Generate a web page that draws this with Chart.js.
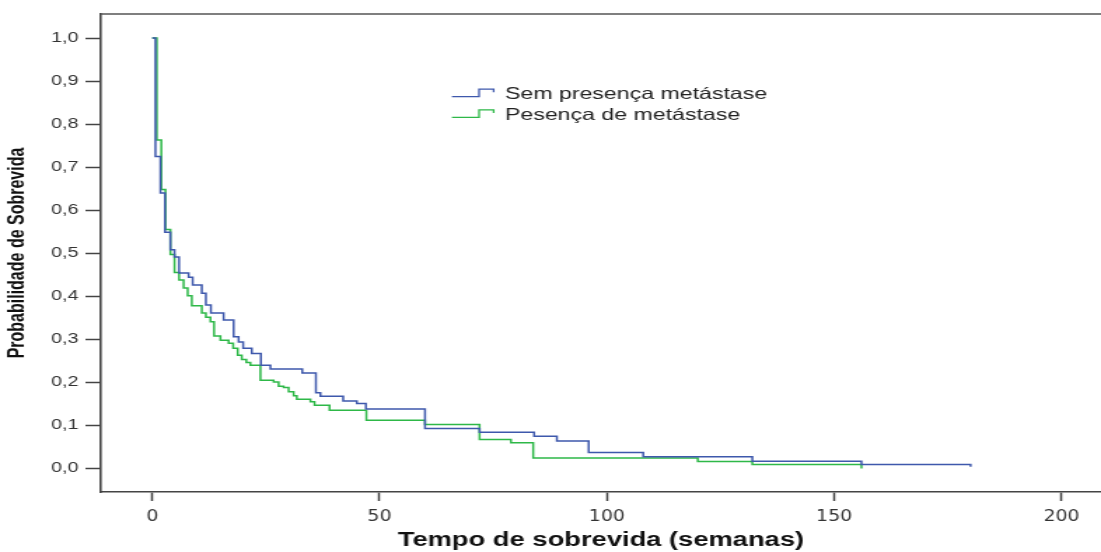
<!DOCTYPE html>
<html lang="pt">

<head>
    <meta charset="utf-8">
    <script src="https://cdn.jsdelivr.net/npm/chart.js@4/dist/chart.umd.min.js"></script>
    <title> Sobrevida Kaplan-Meier </title>
    <style>
        html, body { margin: 0; padding: 0; background: #fff; overflow: hidden; }
        /* the reference image is stretched sideways, so the whole canvas is too */
        #km { display: block; transform: scaleX(1.4008); transform-origin: 0 0; }
    </style>
</head>

<body>
    <canvas id="km" width="786" height="552"></canvas>

    <script>

        // Sem presença de metástase (tempo em semanas, sobrevida acumulada)
        const semTempo = [0, 0.7, 1.8, 2.8, 4.0, 4.9, 5.9, 8.0, 8.9, 10.9, 11.8, 12.9, 15.7, 17.9, 19.0, 20.0, 21.9, 23.9, 26.0,
            33.0, 36.0, 37.0, 42.0, 45.0, 47.0, 60.0, 72.0, 84.0, 89.0, 96.0, 108.0, 132.0, 156.0, 180.0];
        const semSobrevida = [1.0, 0.725, 0.640, 0.549, 0.508, 0.491, 0.454, 0.444, 0.426, 0.407, 0.380, 0.361, 0.345, 0.306, 0.294, 0.279, 0.267, 0.240, 0.231,
            0.222, 0.176, 0.168, 0.157, 0.151, 0.138, 0.093, 0.084, 0.075, 0.064, 0.037, 0.027, 0.017, 0.009, 0.004];

        // Presença de metástase
        const comTempo = [0, 1.0, 2.0, 2.9, 4.0, 4.9, 5.9, 6.9, 7.8, 8.7, 10.9, 11.8, 12.8, 13.6, 15.0, 16.8, 17.8, 18.8, 19.7, 20.7, 21.6, 23.8,
            26.7, 27.8, 28.9, 30.0, 31.1, 31.8, 34.8, 35.7, 39.0, 47.1, 60.0, 72.0, 78.9, 83.8, 120.0, 132.0, 156.0];
        const comSobrevida = [1.0, 0.763, 0.648, 0.555, 0.497, 0.455, 0.438, 0.419, 0.401, 0.378, 0.361, 0.351, 0.341, 0.308, 0.298, 0.291, 0.279, 0.263, 0.253, 0.246, 0.240, 0.205,
            0.201, 0.191, 0.188, 0.178, 0.169, 0.161, 0.155, 0.147, 0.135, 0.112, 0.102, 0.067, 0.060, 0.024, 0.016, 0.009, 0.0];

        const rotulos = ["Sem presença metástase", "Pesença de metástase"];
        const cores = ["#3E58AC", "#2EB848"];

        const xTicks = [0, 50, 100, 150, 200];
        const yTicks = [0.0, 0.1, 0.2, 0.3, 0.4, 0.5, 0.6, 0.7, 0.8, 0.9, 1.0];

        function pontos(ts, ss) {
            return ts.map((t, i) => ({ x: t, y: ss[i] }));
        }

        // top edge of the frame (left and bottom come from the axis borders)
        const moldura = {
            id: "moldura",
            afterDraw(chart) {
                const ctx = chart.ctx, a = chart.chartArea;
                ctx.save();
                ctx.strokeStyle = "#555";
                ctx.lineWidth = 1.6;
                ctx.beginPath();
                ctx.moveTo(a.left, a.top);
                ctx.lineTo(chart.width, a.top);
                ctx.stroke();
                ctx.restore();
            }
        };

        // SPSS style legend: a little step line followed by the label
        const legendaDegrau = {
            id: "legendaDegrau",
            afterDraw(chart) {
                const ctx = chart.ctx;
                ctx.save();
                ctx.font = "16.5px 'Liberation Sans', Arial, sans-serif";
                ctx.textBaseline = "alphabetic";
                chart.data.datasets.forEach((ds, i) => {
                    const y = 96.7 + i * 20.7;
                    ctx.strokeStyle = ds.borderColor;
                    ctx.lineWidth = 1.3;
                    ctx.beginPath();
                    ctx.moveTo(322.6, y);
                    ctx.lineTo(342, y);
                    ctx.lineTo(342, y - 7.6);
                    ctx.lineTo(352.4, y - 7.6);
                    ctx.lineTo(352.4, y - 4.4);
                    ctx.stroke();
                    ctx.fillStyle = "#222";
                    ctx.fillText(ds.label, 360.5, y + 2.3);
                });
                ctx.restore();
            }
        };

        const ctx = document.getElementById("km").getContext("2d");

        new Chart(ctx, {
            type: "line",
            data: {
                datasets: [
                    {
                        label: rotulos[0],
                        data: pontos(semTempo, semSobrevida),
                        borderColor: cores[0],
                        borderWidth: 1.5,
                        stepped: true,
                        pointRadius: 0,
                        fill: false
                    },
                    {
                        label: rotulos[1],
                        data: pontos(comTempo, comSobrevida),
                        borderColor: cores[1],
                        borderWidth: 1.5,
                        stepped: true,
                        pointRadius: 0,
                        fill: false
                    }
                ]
            },
            options: {
                responsive: false,
                animation: false,
                devicePixelRatio: 1,
                layout: { padding: { top: 14, left: 0, right: 0, bottom: 0 } },
                plugins: {
                    legend: { display: false },
                    tooltip: { enabled: false }
                },
                scales: {
                    x: {
                        type: "linear",
                        min: -11.3,
                        max: 208.7,
                        afterBuildTicks: s => { s.ticks = xTicks.map(v => ({ value: v })); },
                        afterFit: s => { s.height = 60; },
                        grid: {
                            drawOnChartArea: false,
                            drawTicks: true,
                            tickLength: 9,
                            tickColor: "#444",
                            tickWidth: 1.5
                        },
                        border: { display: true, color: "#444", width: 1.6 },
                        ticks: {
                            padding: 7,
                            color: "#333",
                            maxRotation: 0,
                            font: { family: "'Liberation Sans Narrow', 'DejaVu Sans Condensed', 'Liberation Sans', sans-serif", size: 15 }
                        },
                        title: {
                            display: true,
                            text: "Tempo de sobrevida (semanas)",
                            color: "#111",
                            padding: { top: 0, bottom: 0 },
                            font: { family: "'Liberation Sans', Arial, sans-serif", size: 19.5, weight: "bold" }
                        }
                    },
                    y: {
                        min: -0.0547,
                        max: 1.0558,
                        afterBuildTicks: s => { s.ticks = yTicks.map(v => ({ value: v })); },
                        afterFit: s => { s.width = 72; },
                        grid: {
                            drawOnChartArea: false,
                            drawTicks: true,
                            tickLength: 11,
                            tickColor: "#444",
                            tickWidth: 1.5
                        },
                        border: { display: true, color: "#444", width: 1.6 },
                        ticks: {
                            padding: 5,
                            color: "#333",
                            callback: v => v.toFixed(1).replace(".", ","),
                            font: { family: "'Liberation Sans', Arial, sans-serif", size: 14 }
                        },
                        title: {
                            display: true,
                            text: "Probabilidade de Sobrevida",
                            color: "#111",
                            padding: { top: 3, bottom: 0 },
                            font: { family: "'Liberation Sans', Arial, sans-serif", size: 16, weight: "bold" }
                        }
                    }
                }
            },
            plugins: [moldura, legendaDegrau]
        });
    </script>
</body>

</html>
